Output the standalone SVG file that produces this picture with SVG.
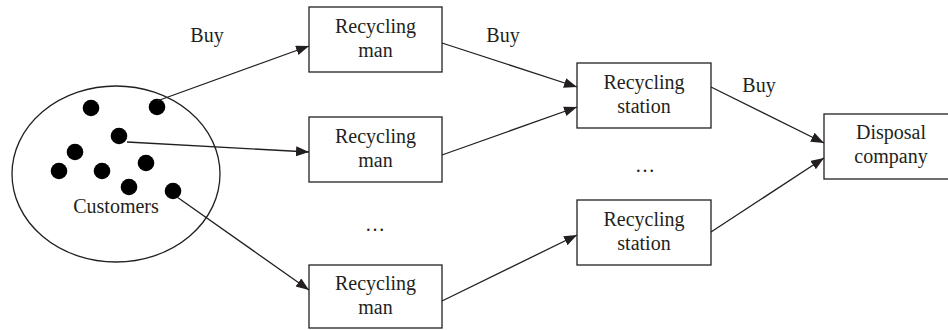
<svg xmlns="http://www.w3.org/2000/svg" width="948" height="330" viewBox="0 0 948 330">
<style>
  .box { fill: #fff; stroke: #231f20; stroke-width: 1.3; }
  .lbl { font-family: "Liberation Serif", "Times New Roman", serif; font-size: 20px; fill: #231f20; text-anchor: middle; }
  .edge { stroke: #231f20; stroke-width: 1.3; fill: none; marker-end: url(#arr); }
  .dot { fill: #000; }
</style>
<defs>
  <marker id="arr" markerUnits="userSpaceOnUse" markerWidth="14" markerHeight="11" refX="13" refY="5" orient="auto">
    <path d="M0,0 L13,5 L0,10 z" fill="#231f20"/>
  </marker>
</defs>
<rect width="948" height="330" fill="#fff"/>
<g id="customers">
  <ellipse cx="116" cy="174" rx="104" ry="88" fill="none" stroke="#231f20" stroke-width="1.3"/>
  <circle class="dot" cx="91" cy="108" r="8.3"/>
  <circle class="dot" cx="157" cy="107" r="8.3"/>
  <circle class="dot" cx="119" cy="136" r="8.3"/>
  <circle class="dot" cx="75" cy="152" r="8.3"/>
  <circle class="dot" cx="59" cy="171" r="8.3"/>
  <circle class="dot" cx="102" cy="171" r="8.3"/>
  <circle class="dot" cx="146" cy="163" r="8.3"/>
  <circle class="dot" cx="129" cy="187" r="8.3"/>
  <circle class="dot" cx="173" cy="191" r="8.3"/>
  <text class="lbl" x="116" y="213">Customers</text>
</g>
<g id="man1">
  <rect class="box" x="309" y="7" width="133" height="65"/>
  <text class="lbl" x="375.5" y="33">Recycling</text>
  <text class="lbl" x="375.5" y="57">man</text>
</g>
<g id="man2">
  <rect class="box" x="309" y="117" width="133" height="65"/>
  <text class="lbl" x="375.5" y="143">Recycling</text>
  <text class="lbl" x="375.5" y="167">man</text>
</g>
<g id="man3">
  <rect class="box" x="309" y="265" width="133" height="63"/>
  <text class="lbl" x="375.5" y="290">Recycling</text>
  <text class="lbl" x="375.5" y="314">man</text>
</g>
<g id="station1">
  <rect class="box" x="577" y="63" width="134" height="65"/>
  <text class="lbl" x="644" y="89">Recycling</text>
  <text class="lbl" x="644" y="113">station</text>
</g>
<g id="station2">
  <rect class="box" x="577" y="200" width="134" height="65"/>
  <text class="lbl" x="644" y="226">Recycling</text>
  <text class="lbl" x="644" y="250">station</text>
</g>
<g id="disposal">
  <rect class="box" x="824" y="114" width="136" height="65"/>
  <text class="lbl" x="891" y="139">Disposal</text>
  <text class="lbl" x="891" y="163">company</text>
</g>
<g id="connectors">
  <line class="edge" x1="157" y1="101" x2="309" y2="46"/>
  <line class="edge" x1="127" y1="142" x2="309" y2="152"/>
  <line class="edge" x1="177" y1="197" x2="309" y2="290"/>
  <line class="edge" x1="442" y1="43" x2="577" y2="87"/>
  <line class="edge" x1="442" y1="155" x2="577" y2="107"/>
  <line class="edge" x1="442" y1="301" x2="577" y2="235"/>
  <line class="edge" x1="711" y1="87" x2="824" y2="143"/>
  <line class="edge" x1="711" y1="232" x2="824" y2="158"/>
</g>
<g id="labels">
  <text class="lbl" x="207" y="42">Buy</text>
  <text class="lbl" x="503" y="42">Buy</text>
  <text class="lbl" x="759" y="92">Buy</text>
  <text class="lbl" x="375" y="231">…</text>
  <text class="lbl" x="645" y="172">…</text>
</g>
</svg>
